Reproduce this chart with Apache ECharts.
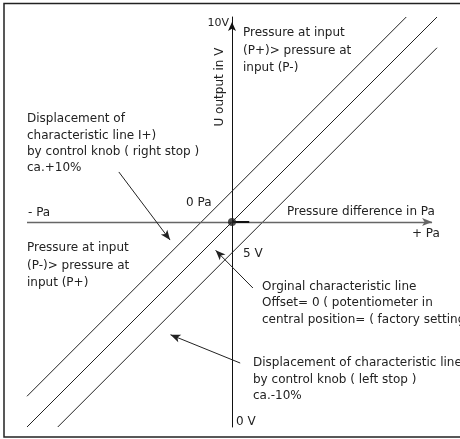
<!DOCTYPE html>
<html><head><meta charset="utf-8">
<script src="https://cdn.jsdelivr.net/npm/echarts@6/dist/echarts.min.js"></script>
<style>html,body{margin:0;padding:0;background:#fff}#c{width:460px;height:439px}</style>
</head><body><div id="c"></div>
<script>
// ---- data (pressure difference in arbitrary units, output in V) ----
const pressureRange = [-5, 5];
const voltageRange = [0, 10];
const upperLine = [[-5, 0.75], [4.25, 10]];      // +10% (right stop)
const originalLine = [[-5, 0], [5, 10]];         // original characteristic line
const lowerLine = [[-4.25, 0], [5, 9.25]];       // -10% (left stop)
const originPoint = [[0, 5]];
const pressureAxisLine = [[-5, 5], [4.88, 5]];
const originTick = [[0, 5], [0.42, 5]];
const leaderUpper = [[-2.76, 6.22], [-1.51, 4.56]];
const leaderOriginal = [[0.51, 3.39], [-0.40, 4.31]];
const leaderLower = [[0.20, 1.56], [-1.50, 2.25]];

const FONT = '"DejaVu Sans", sans-serif';
const INK = '#222';
function txt(x, y, text, opt) {
  opt = opt || {};
  return {
    type: 'text', x: x, y: y, rotation: opt.rotation || 0, silent: true, z: 10,
    style: {
      text: text, fill: INK,
      font: (opt.size || 12) + 'px ' + FONT,
      align: opt.align || 'left',
      verticalAlign: opt.va || 'middle',
      lineHeight: opt.lh || 16.5
    }
  };
}
function seg(pair, color, width) {
  return [{ coord: pair[0], lineStyle: { color: color, width: width } }, { coord: pair[1] }];
}

const chart = echarts.init(document.getElementById('c'), null, { renderer: 'canvas' });
chart.setOption({
  animation: false,
  backgroundColor: '#fff',
  grid: { left: 27, right: 23, top: 17, bottom: 12, containLabel: false, outerBoundsMode: 'none' },
  xAxis: {
    type: 'value', min: pressureRange[0], max: pressureRange[1],
    axisLine: { show: false }, axisTick: { show: false }, axisLabel: { show: false }, splitLine: { show: false }
  },
  yAxis: {
    type: 'value', min: voltageRange[0], max: voltageRange[1],
    axisLine: { show: true, onZero: true, symbol: ['none', 'arrow'], symbolSize: [6, 9], symbolOffset: [0, -5],
      lineStyle: { color: '#111', width: 1 } },
    axisTick: { show: false }, axisLabel: { show: false }, splitLine: { show: false }
  },
  series: [
    { type: 'line', name: '+10%', data: upperLine, symbol: 'none', silent: true,
      lineStyle: { color: INK, width: 1 } },
    { type: 'line', name: 'original', data: originalLine, symbol: 'none', silent: true,
      lineStyle: { color: INK, width: 1 },
      markLine: {
        silent: true, animation: false,
        symbol: ['none', 'arrow'], symbolSize: [6, 10],
        label: { show: false },
        lineStyle: { type: 'solid', color: INK, width: 1 },
        data: [
          [{ coord: pressureAxisLine[0], lineStyle: { color: '#666', width: 1.3 } }, { coord: pressureAxisLine[1] }],
          [{ coord: leaderUpper[0], lineStyle: { color: INK, width: 1 } }, { coord: leaderUpper[1] }],
          [{ coord: leaderOriginal[0], lineStyle: { color: INK, width: 1 } }, { coord: leaderOriginal[1] }],
          [{ coord: leaderLower[0], lineStyle: { color: INK, width: 1 } }, { coord: leaderLower[1] }],
          [{ coord: originTick[0], symbol: 'none', lineStyle: { color: '#111', width: 2 } }, { coord: originTick[1], symbol: 'none' }]
        ]
      } },
    { type: 'line', name: '-10%', data: lowerLine, symbol: 'none', silent: true,
      lineStyle: { color: INK, width: 1 } },
    { type: 'scatter', name: 'origin', data: originPoint, symbolSize: 8, silent: true,
      itemStyle: { color: '#222' }, z: 5 }
  ],
  graphic: [
    { type: 'rect', silent: true, shape: { x: 4, y: 3.5, width: 520, height: 433.5 },
      style: { fill: 'none', stroke: '#222', lineWidth: 1.5 } },
    txt(229, 23, '10V', { align: 'right', size: 11 }),
    txt(220, 87, 'U output in V', { align: 'center', rotation: Math.PI / 2 }),
    txt(243, 24.25, 'Pressure at input\n(P+)> pressure at\ninput (P-)', { va: 'top', lh: 17.5 }),
    txt(27, 111.2, 'Displacement of\ncharacteristic line I+)\nby control knob ( right stop )\nca.+10%', { va: 'top', lh: 16.3 }),
    txt(186, 203, '0 Pa'),
    txt(28, 213, '- Pa'),
    txt(287, 212, 'Pressure difference in Pa'),
    txt(412, 234, '+ Pa'),
    txt(27, 239.7, 'Pressure at input\n(P-)> pressure at\ninput (P+)', { va: 'top', lh: 17.2 }),
    txt(243, 254, '5 V'),
    txt(262, 278.3, 'Orginal characteristic line\nOffset= 0 ( potentiometer in\ncentral position= ( factory setting )', { va: 'top', lh: 16.7 }),
    txt(253, 355, 'Displacement of characteristic line\nby control knob ( left stop )\nca.-10%', { va: 'top', lh: 16.3 }),
    txt(236, 422, '0 V')
  ]
});
</script>
</body></html>
